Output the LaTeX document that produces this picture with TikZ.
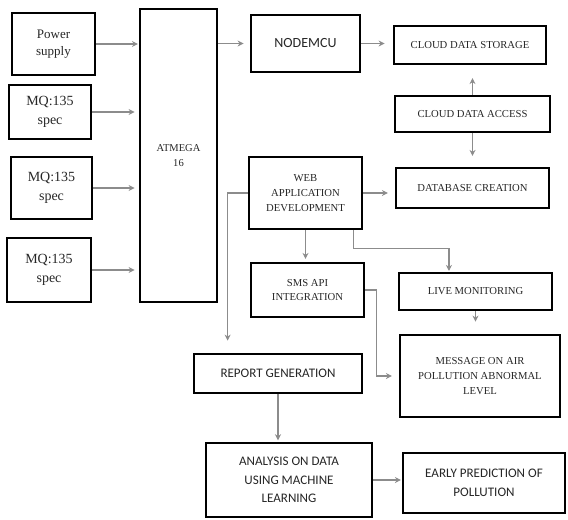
\documentclass[tikz,border=0pt]{standalone}
\usepackage{fontspec}
\setmainfont{Liberation Serif}
\newfontfamily\carlito{Carlito}
\usetikzlibrary{arrows.meta}
\tikzset{
  blk/.style={draw=black, line width=2.1pt, align=center, inner sep=1pt, text=black!85},
  sz/.style 2 args={minimum width=#1*0.75pt, minimum height=#2*0.75pt},
  conn/.style={draw=black!45, line width=1.1pt, shorten >=2pt, -{Stealth[length=4.5pt,width=4.5pt]}},
  capsf/.style={font=\fontsize{8}{11}\selectfont},
  mqf/.style={font=\fontsize{10.5}{14}\selectfont},
  sansf/.style={font=\carlito\fontsize{9.8}{14}\selectfont},
}
\begin{document}
\begin{tikzpicture}[x=0.75pt,y=-0.75pt]
\useasboundingbox (0,0) rectangle (568,519);
\node[blk, sz={83}{62}, font=\fontsize{9.75}{13}\selectfont] (pwr) at (53.5,44) {Power\\supply};
\foreach \n/\cx/\cy/\w/\h in {mqa/50/112/82/54, mqb/51.5/188/81/62, mqc/49/270/84/64}{
\node[blk, sz={\w}{\h}, mqf] (\n) at (\cx,\cy) {MQ:135\\spec};
}
\node[blk, sz={77}{293}, font=\fontsize{7.9}{11}\selectfont] (atm) at (178.5,155.5) {ATMEGA\\16};
\node[blk, sz={109}{57}, font=\carlito\fontsize{10.5}{14}\selectfont] (mcu) at (305.5,43.5) {NODEMCU};
\node[blk, sz={152}{38}, capsf] (cds) at (470,45) {CLOUD DATA STORAGE};
\node[blk, sz={155}{36}, capsf] (cda) at (472.5,114) {CLOUD DATA ACCESS};
\node[blk, sz={153}{40}, capsf] (dbc) at (472.5,188) {DATABASE CREATION};
\node[blk, sz={113}{72}, capsf] (web) at (305.5,193) {WEB\\APPLICATION\\DEVELOPMENT};
\node[blk, sz={113}{54}, capsf] (sms) at (307.5,290) {SMS API\\INTEGRATION};
\node[blk, sz={153}{37}, capsf] (live) at (475.5,291.5) {LIVE MONITORING};
\node[blk, sz={160}{82}, capsf] (msg) at (480,376) {MESSAGE ON AIR\\POLLUTION ABNORMAL\\LEVEL};
\node[blk, sz={168}{39}, sansf] (rep) at (278,373.5) {REPORT GENERATION};
\node[blk, sz={166}{74}, sansf] (ana) at (289,480) {ANALYSIS ON DATA\\USING MACHINE\\LEARNING};
\node[blk, sz={162}{60}, sansf] (ear) at (484,483) {EARLY PREDICTION OF\\POLLUTION};

\draw[conn, shorten >=0.5pt] (pwr.east) -- (pwr.east -| atm.west);
\foreach \n in {mqa,mqb,mqc}{
\draw[conn, shorten >=3pt] (\n.east) -- (\n.east -| atm.west);
}
\draw[conn, shorten >=4.5pt] (mcu.west -| atm.east) -- (mcu.west);
\draw[conn, shorten >=6pt] (mcu.east) -- (mcu.east -| cds.west);
\draw[conn, shorten >=9.5pt] (cda.north) -- (cda.north |- cds.south);
\draw[conn, shorten >=8pt] (cda.south) -- (cda.south |- dbc.north);
\draw[conn, shorten >=5pt] (web.east) -- (web.east -| dbc.west);
\draw[conn] (web.south) -- (web.south |- sms.north);
\draw[conn, shorten >=0.5pt] ([xshift=-7.5pt]web.south east) -- ++(0,18) -| ([xshift=-19.9pt]live.north);
\draw[conn, shorten >=9pt] (web.west) -| ([xshift=26.25pt]rep.north west);
\draw[conn, shorten >=9pt] (live.south) -- (live.south |- msg.north);
\draw[conn, shorten >=5pt] (sms.east) -- ++(11,0) |- (msg.west);
\draw[conn, shorten >=1pt] (rep.south) -- (rep.south |- ana.north);
\draw[conn, shorten >=0.5pt] (ana.east) -- (ana.east -| ear.west);
\end{tikzpicture}
\end{document}
